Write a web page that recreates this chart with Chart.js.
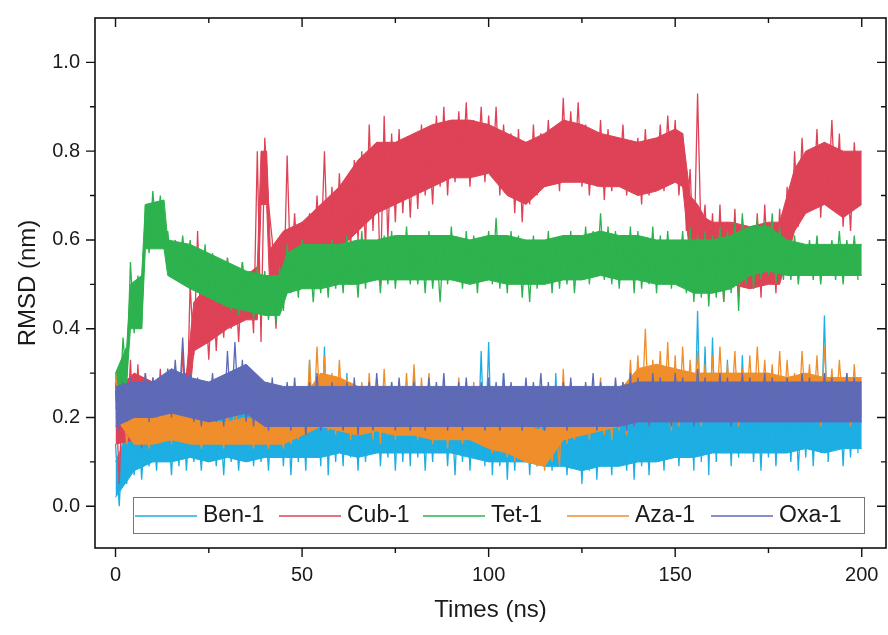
<!DOCTYPE html>
<html>
<head>
<meta charset="utf-8">
<title>RMSD</title>
<script src="https://cdn.jsdelivr.net/npm/chart.js@4.4.0/dist/chart.umd.min.js"></script>
<style>
  html, body { margin: 0; padding: 0; background: #fff; }
</style>
</head>
<body>
<canvas id="rmsdChart" width="888" height="635"></canvas>
<script>
// sample times (ns): upper spikes read at even ns, lower spikes at odd ns
var tHigh = [0,2,4,6,8,10,12,14,16,18,20,22,24,26,28,30,32,34,36,38,40,42,44,46,48,50,52,54,56,58,
  60,62,64,66,68,70,72,74,76,78,80,82,84,86,88,90,92,94,96,98,100,102,104,106,108,110,112,114,116,118,
  120,122,124,126,128,130,132,134,136,138,140,142,144,146,148,150,152,154,156,158,160,162,164,166,168,170,172,174,176,178,
  180,182,184,186,188,190,192,194,196,198];
var tLow = [1,3,5,7,9,11,13,15,17,19,21,23,25,27,29,31,33,35,37,39,41,43,45,47,49,51,53,55,57,59,
  61,63,65,67,69,71,73,75,77,79,81,83,85,87,89,91,93,95,97,99,101,103,105,107,109,111,113,115,117,119,
  121,123,125,127,129,131,133,135,137,139,141,143,145,147,149,151,153,155,157,159,161,163,165,167,169,171,173,175,177,179,
  181,183,185,187,189,191,193,195,197,199];
// times at which the dense core of each band was read
var tCore = [0,5,10,15,20,25,30,35,40,45,50,55,60,65,70,75,80,85,90,95,100,
  105,110,115,120,125,130,135,140,145,150,155,160,165,170,175,180,185,190,195,200];
var tCoreCub = [0,5,10,15,19,21,25,30,35,38,39,40.5,41.5,45,50,55,60,65,70,75,
  80,85,90,95,100,105,110,115,120,125,130,135,140,145,150,152,154,156,158,160,
  165,170,175,178,182,185,190,195,200];
var tCoreTet = [0,3,4,7,8,13,14,20,25,30,35,40,44,46,50,55,60,65,70,75,80,85,90,95,100,
  105,110,115,120,125,130,135,140,145,150,155,160,165,170,175,180,185,190,195,200];

var seriesNames = ["Ben-1", "Cub-1", "Tet-1", "Aza-1", "Oxa-1"];
var seriesColors = ["#1DAEE3", "#DE4256", "#2DB24E", "#F08E2C", "#5E6AB5"];

var xTicks = [0, 50, 100, 150, 200];
var xMinor = [25, 75, 125, 175];
var yTicks = [0.0, 0.2, 0.4, 0.6, 0.8, 1.0];
var yMinor = [0.1, 0.3, 0.5, 0.7, 0.9];

// Ben-1
var benHigh = [0.14,0.18,0.20,0.22,0.19,0.21,0.23,0.20,0.22,0.24,
  0.21,0.19,0.23,0.22,0.20,0.24,0.22,0.21,0.25,0.22,
  0.21,0.24,0.22,0.26,0.23,0.25,0.33,0.27,0.36,0.26,
  0.24,0.30,0.25,0.27,0.23,0.26,0.24,0.28,0.25,0.27,
  0.31,0.26,0.24,0.27,0.25,0.23,0.26,0.28,0.25,0.35,
  0.37,0.27,0.30,0.24,0.26,0.25,0.23,0.26,0.24,0.30,
  0.25,0.23,0.26,0.24,0.27,0.25,0.23,0.26,0.24,0.27,
  0.26,0.24,0.28,0.25,0.27,0.30,0.26,0.28,0.44,0.36,
  0.38,0.30,0.33,0.27,0.34,0.28,0.26,0.29,0.31,0.27,
  0.26,0.28,0.25,0.30,0.27,0.43,0.26,0.28,0.25,0.27];
var benLow = [0.00,0.05,0.07,0.06,0.09,0.08,0.11,0.07,0.09,0.08,
  0.10,0.08,0.11,0.09,0.07,0.10,0.08,0.11,0.09,0.10,
  0.08,0.11,0.09,0.07,0.10,0.08,0.11,0.09,0.07,0.10,
  0.09,0.11,0.08,0.10,0.12,0.09,0.11,0.08,0.10,0.09,
  0.11,0.08,0.10,0.12,0.09,0.07,0.10,0.08,0.11,0.09,
  0.07,0.09,0.06,0.08,0.10,0.07,0.09,0.11,0.08,0.10,
  0.07,0.09,0.05,0.08,0.06,0.09,0.07,0.10,0.08,0.06,
  0.09,0.07,0.10,0.08,0.11,0.09,0.12,0.08,0.10,0.07,
  0.10,0.12,0.09,0.11,0.13,0.10,0.08,0.11,0.09,0.12,
  0.10,0.08,0.11,0.09,0.12,0.10,0.13,0.09,0.11,0.12];
var benCoreHigh = [0.10,0.20,0.21,0.21,0.21,0.22,0.21,0.22,0.22,0.22,0.23,0.24,0.23,0.23,0.23,0.23,0.23,0.23,0.23,0.23,0.23,
  0.22,0.21,0.21,0.21,0.21,0.21,0.21,0.22,0.22,0.23,0.24,0.24,0.24,0.23,0.24,0.24,0.24,0.24,0.24,0.24];
var benCoreLow = [0.02,0.08,0.10,0.10,0.11,0.10,0.11,0.10,0.11,0.11,0.11,0.11,0.12,0.11,0.12,0.12,0.12,0.12,0.12,0.11,0.10,
  0.10,0.10,0.09,0.09,0.08,0.09,0.09,0.10,0.10,0.11,0.11,0.12,0.12,0.12,0.12,0.12,0.13,0.12,0.13,0.13];

// Cub-1
var cubHigh = [0.28,0.30,0.33,0.32,0.30,0.29,0.31,0.28,0.30,0.35,
  0.50,0.62,0.48,0.52,0.50,0.56,0.53,0.55,0.52,0.80,
  0.83,0.60,0.58,0.79,0.66,0.64,0.66,0.70,0.80,0.72,
  0.75,0.72,0.78,0.80,0.86,0.82,0.88,0.84,0.85,0.83,
  0.84,0.86,0.83,0.88,0.90,0.86,0.89,0.91,0.87,0.90,
  0.88,0.90,0.86,0.84,0.85,0.82,0.86,0.84,0.87,0.85,
  0.92,0.89,0.91,0.86,0.84,0.87,0.85,0.83,0.86,0.82,
  0.83,0.85,0.82,0.86,0.88,0.87,0.84,0.76,0.93,0.68,
  0.66,0.68,0.64,0.67,0.65,0.63,0.66,0.68,0.64,0.67,
  0.72,0.80,0.83,0.79,0.85,0.82,0.87,0.84,0.78,0.82];
var cubLow = [0.05,0.15,0.14,0.13,0.16,0.14,0.17,0.15,0.18,0.16,
  0.34,0.36,0.33,0.35,0.38,0.40,0.37,0.42,0.39,0.37,
  0.68,0.40,0.45,0.50,0.52,0.50,0.53,0.55,0.54,0.57,
  0.56,0.58,0.60,0.58,0.62,0.50,0.60,0.64,0.66,0.65,
  0.67,0.70,0.68,0.72,0.70,0.73,0.74,0.72,0.75,0.73,
  0.74,0.70,0.72,0.66,0.64,0.68,0.70,0.72,0.73,0.71,
  0.73,0.75,0.72,0.70,0.72,0.69,0.71,0.73,0.70,0.72,
  0.68,0.70,0.72,0.71,0.74,0.70,0.62,0.55,0.58,0.50,
  0.48,0.46,0.50,0.47,0.52,0.49,0.47,0.51,0.48,0.52,
  0.56,0.63,0.66,0.68,0.65,0.70,0.67,0.63,0.62,0.68];
var cubCoreHigh = [0.26,0.30,0.28,0.28,0.30,0.46,0.50,0.52,0.52,0.54,
  0.80,0.80,0.58,0.62,0.64,0.68,0.72,0.78,0.82,0.82,
  0.84,0.86,0.87,0.87,0.86,0.84,0.82,0.84,0.87,0.86,
  0.84,0.83,0.82,0.83,0.85,0.84,0.70,0.68,0.65,0.64,
  0.64,0.63,0.64,0.64,0.76,0.80,0.82,0.80,0.80];
var cubCoreLow = [0.14,0.15,0.15,0.16,0.17,0.35,0.37,0.40,0.42,0.42,
  0.68,0.68,0.45,0.50,0.52,0.55,0.58,0.62,0.66,0.68,
  0.70,0.72,0.74,0.74,0.75,0.70,0.68,0.72,0.73,0.73,
  0.72,0.72,0.70,0.71,0.73,0.72,0.56,0.54,0.50,0.50,
  0.50,0.49,0.50,0.50,0.62,0.66,0.68,0.65,0.68];

// Tet-1
var tetHigh = [0.30,0.38,0.55,0.52,0.68,0.71,0.70,0.62,0.60,0.61,
  0.60,0.58,0.59,0.57,0.55,0.56,0.54,0.55,0.53,0.54,
  0.53,0.52,0.54,0.59,0.58,0.60,0.57,0.59,0.58,0.60,
  0.59,0.61,0.58,0.62,0.60,0.59,0.61,0.62,0.60,0.63,
  0.61,0.60,0.62,0.59,0.61,0.63,0.60,0.62,0.61,0.60,
  0.62,0.65,0.60,0.62,0.61,0.59,0.61,0.60,0.62,0.60,
  0.61,0.62,0.60,0.63,0.62,0.66,0.63,0.62,0.61,0.63,
  0.62,0.60,0.63,0.61,0.62,0.60,0.62,0.63,0.61,0.62,
  0.61,0.63,0.62,0.64,0.66,0.63,0.65,0.64,0.66,0.63,
  0.60,0.61,0.59,0.60,0.61,0.59,0.60,0.62,0.60,0.61];
var tetLow = [0.20,0.28,0.39,0.40,0.57,0.60,0.58,0.53,0.51,0.52,
  0.50,0.48,0.47,0.46,0.45,0.44,0.43,0.44,0.42,0.43,
  0.42,0.41,0.44,0.48,0.47,0.49,0.46,0.48,0.47,0.49,
  0.48,0.50,0.47,0.49,0.51,0.48,0.50,0.49,0.51,0.50,
  0.50,0.48,0.49,0.46,0.50,0.51,0.49,0.50,0.48,0.51,
  0.50,0.49,0.48,0.51,0.47,0.46,0.49,0.50,0.48,0.49,
  0.50,0.48,0.51,0.50,0.52,0.51,0.50,0.49,0.51,0.48,
  0.49,0.50,0.48,0.50,0.49,0.51,0.48,0.46,0.47,0.45,
  0.47,0.46,0.48,0.44,0.50,0.49,0.51,0.52,0.50,0.51,
  0.51,0.50,0.52,0.51,0.50,0.52,0.51,0.50,0.52,0.51];
var tetCoreHigh = [0.30,0.36,0.50,0.52,0.68,0.69,0.60,0.59,0.57,0.55,0.53,0.52,0.52,0.57,0.59,
  0.59,0.59,0.60,0.60,0.61,0.61,0.61,0.61,0.60,0.61,
  0.61,0.60,0.60,0.61,0.61,0.62,0.61,0.61,0.60,0.60,0.60,0.60,0.61,0.63,0.63,0.60,0.59,0.59,0.59,0.59];
var tetCoreLow = [0.22,0.28,0.40,0.40,0.58,0.58,0.52,0.49,0.47,0.45,0.44,0.43,0.43,0.48,0.49,
  0.49,0.50,0.50,0.51,0.51,0.51,0.51,0.51,0.50,0.51,
  0.50,0.50,0.50,0.51,0.51,0.52,0.51,0.51,0.50,0.50,0.48,0.48,0.49,0.52,0.53,0.52,0.52,0.52,0.52,0.52];

// Aza-1
var azaHigh = [0.30,0.24,0.21,0.22,0.20,0.21,0.22,0.24,0.26,0.27,
  0.22,0.19,0.20,0.18,0.19,0.21,0.23,0.20,0.19,0.20,
  0.19,0.20,0.19,0.21,0.22,0.26,0.33,0.36,0.34,0.30,
  0.33,0.29,0.27,0.28,0.30,0.29,0.31,0.27,0.28,0.30,
  0.32,0.29,0.30,0.27,0.28,0.26,0.29,0.27,0.28,0.26,
  0.24,0.22,0.21,0.20,0.22,0.21,0.20,0.19,0.20,0.18,
  0.31,0.28,0.26,0.27,0.25,0.29,0.26,0.27,0.28,0.33,
  0.34,0.40,0.33,0.35,0.37,0.34,0.36,0.33,0.35,0.32,
  0.34,0.36,0.32,0.35,0.31,0.34,0.36,0.33,0.32,0.35,
  0.33,0.30,0.35,0.32,0.34,0.36,0.31,0.33,0.30,0.32];
var azaLow = [0.20,0.14,0.14,0.15,0.13,0.14,0.15,0.14,0.16,0.15,
  0.14,0.13,0.15,0.14,0.13,0.14,0.15,0.14,0.13,0.14,
  0.13,0.14,0.13,0.14,0.15,0.16,0.17,0.18,0.17,0.16,
  0.17,0.15,0.16,0.17,0.15,0.14,0.16,0.15,0.17,0.16,
  0.15,0.16,0.14,0.15,0.13,0.15,0.14,0.16,0.15,0.14,
  0.12,0.13,0.11,0.10,0.12,0.10,0.09,0.08,0.10,0.09,
  0.14,0.15,0.16,0.15,0.17,0.16,0.15,0.17,0.16,0.18,
  0.19,0.18,0.20,0.19,0.17,0.18,0.19,0.20,0.18,0.19,
  0.20,0.19,0.21,0.18,0.20,0.19,0.21,0.20,0.19,0.20,
  0.20,0.19,0.21,0.20,0.18,0.20,0.19,0.21,0.18,0.19];
var azaCoreHigh = [0.28,0.20,0.20,0.23,0.20,0.19,0.19,0.20,0.19,0.19,0.24,0.30,0.29,0.27,0.27,0.27,0.27,0.26,0.25,0.25,0.21,
  0.19,0.18,0.17,0.24,0.25,0.25,0.26,0.31,0.32,0.31,0.30,0.30,0.30,0.30,0.30,0.29,0.30,0.29,0.29,0.29];
var azaCoreLow = [0.20,0.14,0.14,0.15,0.14,0.14,0.14,0.14,0.14,0.14,0.16,0.18,0.17,0.16,0.17,0.16,0.16,0.15,0.15,0.15,0.13,
  0.12,0.10,0.09,0.15,0.16,0.17,0.18,0.20,0.20,0.20,0.20,0.21,0.21,0.21,0.21,0.20,0.20,0.20,0.20,0.20];

// Oxa-1
var oxaHigh = [0.26,0.28,0.29,0.27,0.30,0.29,0.28,0.31,0.33,0.38,
  0.30,0.29,0.28,0.30,0.29,0.35,0.37,0.33,0.30,0.29,
  0.28,0.29,0.27,0.28,0.29,0.27,0.28,0.30,0.27,0.28,
  0.27,0.28,0.29,0.27,0.28,0.30,0.27,0.28,0.29,0.27,
  0.28,0.27,0.29,0.28,0.30,0.27,0.28,0.29,0.27,0.28,
  0.29,0.28,0.30,0.28,0.27,0.29,0.28,0.30,0.28,0.27,
  0.28,0.29,0.27,0.28,0.30,0.28,0.27,0.29,0.28,0.30,
  0.29,0.28,0.30,0.29,0.28,0.30,0.29,0.28,0.31,0.29,
  0.28,0.30,0.29,0.28,0.30,0.29,0.28,0.30,0.29,0.28,
  0.29,0.28,0.30,0.29,0.28,0.30,0.29,0.28,0.30,0.29];
var oxaLow = [0.17,0.19,0.20,0.21,0.19,0.20,0.21,0.20,0.22,0.21,
  0.19,0.18,0.20,0.19,0.18,0.20,0.21,0.19,0.18,0.19,
  0.17,0.18,0.19,0.17,0.18,0.16,0.18,0.17,0.19,0.18,
  0.17,0.18,0.16,0.18,0.17,0.19,0.18,0.17,0.18,0.17,
  0.18,0.17,0.18,0.19,0.17,0.18,0.17,0.19,0.18,0.17,
  0.18,0.17,0.19,0.18,0.17,0.18,0.19,0.17,0.18,0.19,
  0.17,0.18,0.19,0.18,0.17,0.19,0.18,0.19,0.17,0.18,
  0.19,0.18,0.20,0.19,0.18,0.20,0.19,0.18,0.20,0.19,
  0.19,0.20,0.18,0.19,0.20,0.19,0.21,0.19,0.20,0.19,
  0.20,0.19,0.21,0.19,0.20,0.21,0.19,0.20,0.21,0.20];
var oxaCoreHigh = [0.27,0.28,0.28,0.31,0.29,0.28,0.30,0.32,0.28,0.27,0.27,0.27,0.27,0.27,0.27,0.27,0.27,0.27,0.27,0.27,0.27,
  0.27,0.27,0.27,0.27,0.27,0.27,0.27,0.28,0.28,0.28,0.28,0.28,0.28,0.28,0.28,0.28,0.28,0.28,0.28,0.28];
var oxaCoreLow = [0.18,0.20,0.20,0.21,0.20,0.19,0.20,0.21,0.18,0.18,0.18,0.18,0.18,0.18,0.18,0.18,0.18,0.18,0.18,0.18,0.18,
  0.18,0.18,0.18,0.18,0.18,0.18,0.18,0.19,0.19,0.19,0.19,0.19,0.19,0.19,0.19,0.19,0.19,0.19,0.19,0.19];

var highs = [benHigh, cubHigh, tetHigh, azaHigh, oxaHigh];
var lows = [benLow, cubLow, tetLow, azaLow, oxaLow];
var coreTimes = [tCore, tCoreCub, tCoreTet, tCore, tCore];
var coreHighs = [benCoreHigh, cubCoreHigh, tetCoreHigh, azaCoreHigh, oxaCoreHigh];
var coreLows = [benCoreLow, cubCoreLow, tetCoreLow, azaCoreLow, oxaCoreLow];

// interleave upper and lower readings into one noisy trace
function trace(hi, lo) {
    var pts = [];
    for (var i = 0; i < tHigh.length; i++) {
        pts.push({x: tHigh[i], y: hi[i]});
        pts.push({x: tLow[i], y: lo[i]});
    }
    return pts;
}
function points(ts, vals) {
    return ts.map(function(t, i) { return {x: t, y: vals[i]}; });
}

var FONT = '"Liberation Sans", Arial, Helvetica, sans-serif';
Chart.defaults.font.family = FONT;
Chart.defaults.color = '#1a1a1a';

var framePlugin = {
    id: 'frame',
    afterDatasetsDraw: function(chart) {
        var ctx = chart.ctx, a = chart.chartArea;
        var xs = chart.scales.x, ys = chart.scales.y;
        var major = 9, minor = 5;
        ctx.save();
        ctx.strokeStyle = '#111';
        ctx.lineWidth = 1.6;
        ctx.strokeRect(a.left, a.top, a.right - a.left, a.bottom - a.top);
        ctx.lineWidth = 1.4;
        ctx.beginPath();
        function xt(v, len) {
            var px = xs.getPixelForValue(v);
            ctx.moveTo(px, a.bottom); ctx.lineTo(px, a.bottom + len);
            ctx.moveTo(px, a.top); ctx.lineTo(px, a.top + len);
        }
        function yt(v, len) {
            var py = ys.getPixelForValue(v);
            ctx.moveTo(a.left, py); ctx.lineTo(a.left - len, py);
            ctx.moveTo(a.right, py); ctx.lineTo(a.right - len, py);
        }
        xTicks.forEach(function(v) { xt(v, major); });
        xMinor.forEach(function(v) { xt(v, minor); });
        yTicks.forEach(function(v) { yt(v, major); });
        yMinor.forEach(function(v) { yt(v, minor); });
        ctx.stroke();

        // legend box inside the plot
        var bx = 133, by = 497, bw = 731, bh = 36;
        ctx.fillStyle = '#fff';
        ctx.fillRect(bx, by, bw, bh);
        ctx.strokeStyle = '#777';
        ctx.lineWidth = 1;
        ctx.strokeRect(bx + 0.5, by + 0.5, bw, bh);
        ctx.font = '23px ' + FONT;
        ctx.textBaseline = 'middle';
        ctx.textAlign = 'left';
        var cy = by + bh / 2 + 1;
        seriesNames.forEach(function(name, i) {
            var x0 = 135 + i * 144;
            ctx.strokeStyle = seriesColors[i];
            ctx.lineWidth = 1.6;
            ctx.beginPath();
            ctx.moveTo(x0, cy); ctx.lineTo(x0 + 62, cy);
            ctx.stroke();
            ctx.fillStyle = '#1a1a1a';
            ctx.fillText(name, x0 + 68, cy);
        });
        ctx.restore();
    }
};

// per series: dense core band (filled) under the spiky trace
var datasets = [];
seriesNames.forEach(function(name, i) {
    var base = (seriesNames.length - i) * 3;
    datasets.push({
        label: name + ' core',
        data: points(coreTimes[i], coreHighs[i]),
        borderColor: seriesColors[i],
        backgroundColor: seriesColors[i],
        borderWidth: 1, pointRadius: 0, tension: 0,
        fill: '+1', order: base + 1
    });
    datasets.push({
        label: name + ' core low',
        data: points(coreTimes[i], coreLows[i]),
        borderColor: seriesColors[i],
        borderWidth: 1, pointRadius: 0, tension: 0,
        fill: false, order: base + 1
    });
    datasets.push({
        label: name,
        data: trace(highs[i], lows[i]),
        borderColor: seriesColors[i],
        borderWidth: 1.3,
        borderJoinStyle: 'bevel',
        pointRadius: 0, tension: 0,
        fill: false, order: base
    });
});

var ctx1 = document.getElementById("rmsdChart");
var rmsdChart = new Chart(ctx1, {
    type: 'line',
    data: { datasets: datasets },
    options: {
        responsive: false,
        animation: false,
        devicePixelRatio: 1,
        layout: { padding: { top: 15, right: 2, left: 0, bottom: 0 } },
        plugins: { legend: { display: false }, tooltip: { enabled: false } },
        scales: {
            x: {
                type: 'linear',
                min: -5.5,
                max: 206.5,
                afterBuildTicks: function(s) { s.ticks = xTicks.map(function(v) { return {value: v}; }); },
                afterFit: function(s) { s.height = 87; },
                grid: { display: false, drawTicks: true, tickLength: 9 },
                border: { display: false },
                ticks: { font: { size: 20 }, padding: 6, maxRotation: 0, color: '#1a1a1a' },
                title: { display: true, text: 'Times (ns)', font: { size: 24 }, padding: { bottom: 10 }, color: '#1a1a1a' }
            },
            y: {
                type: 'linear',
                min: -0.094,
                max: 1.1,
                afterBuildTicks: function(s) { s.ticks = yTicks.map(function(v) { return {value: v}; }); },
                afterFit: function(s) { s.width = 95; },
                grid: { display: false, drawTicks: true, tickLength: 9 },
                border: { display: false },
                ticks: { font: { size: 20 }, padding: 6, color: '#1a1a1a',
                    callback: function(v) { return Number(v).toFixed(1); } },
                title: { display: true, text: 'RMSD (nm)', font: { size: 24 }, padding: { top: 14 }, color: '#1a1a1a' }
            }
        }
    },
    plugins: [framePlugin]
});
</script>
</body>
</html>
